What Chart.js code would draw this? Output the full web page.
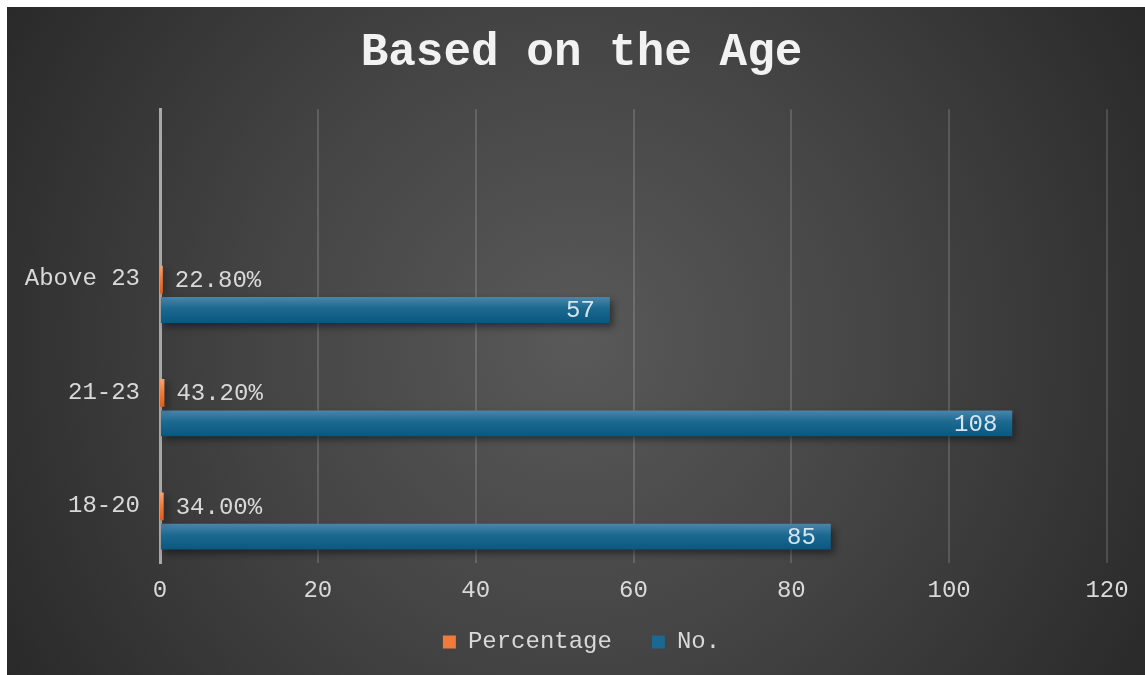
<!DOCTYPE html>
<html>
<head>
<meta charset="utf-8">
<script src="https://cdn.jsdelivr.net/npm/chart.js@4/dist/chart.umd.min.js"></script>
<style>
  html, body { margin: 0; padding: 0; background: #ffffff; }
  #panel {
    position: absolute; left: 7px; top: 7px; width: 1138px; height: 668px;
    background: radial-gradient(circle 680px at 50% 50%, #595959 0%, #454545 45%, #282828 100%);
  }
  #panel canvas { display: block; }
</style>
</head>
<body>
<div id="panel"><canvas id="c"></canvas></div>
<script>
// ---- data ----
const categories = ['18-20', '21-23', 'Above 23'];
const percentageValues = [0.34, 0.432, 0.228];
const countValues = [85, 108, 57];
const xTickValues = [0, 20, 40, 60, 80, 100, 120];
const seriesNames = ['Percentage', 'No.'];
const chartTitle = 'Based on the Age';

const FONT = '"Liberation Mono", "Courier New", monospace';

const toPoints = vals => vals.map((v, i) => ({ x: v, y: i }));

const gradientPlugin = {
  id: 'barStyle',
  beforeDatasetsDraw(chart) {
    const ctx = chart.ctx;
    chart.data.datasets.forEach((ds, di) => {
      const meta = chart.getDatasetMeta(di);
      meta.data.forEach(el => {
        const { y, height } = el.getProps(['y', 'height'], true);
        const g = ctx.createLinearGradient(0, y - height / 2, 0, y + height / 2);
        ds.gradientStops.forEach(([p, c]) => g.addColorStop(p, c));
        el.options = Object.assign({}, el.options, { backgroundColor: g });
      });
    });
    ctx.save();
    ctx.shadowColor = 'rgba(0,0,0,0.45)';
    ctx.shadowBlur = 7;
    ctx.shadowOffsetX = 3;
    ctx.shadowOffsetY = 4;
  },
  afterDatasetsDraw(chart) {
    chart.ctx.restore();
  }
};

const labelPlugin = {
  id: 'valueLabels',
  afterDatasetsDraw(chart) {
    const ctx = chart.ctx;
    ctx.save();
    ctx.font = '24px ' + FONT;
    ctx.textBaseline = 'middle';
    chart.data.datasets.forEach((ds, di) => {
      const meta = chart.getDatasetMeta(di);
      meta.data.forEach((el, i) => {
        const { x, y } = el.getProps(['x', 'y'], true);
        const v = ds.data[i].x;
        if (di === 0) {
          ctx.textAlign = 'left';
          ctx.fillStyle = '#d9d9d9';
          ctx.fillText((v * 100).toFixed(2) + '%', x + 13, y + 1);
        } else {
          ctx.textAlign = 'right';
          ctx.fillStyle = '#d6e4ee';
          ctx.fillText(String(v), x - 15, y + 1);
        }
      });
    });
    ctx.restore();
  }
};

new Chart(document.getElementById('c'), {
  type: 'bar',
  data: {
    datasets: [
      {
        label: seriesNames[0],
        data: toPoints(percentageValues),
        backgroundColor: '#ee7433',
        inflateAmount: 1,
        gradientStops: [[0, '#f6a070'], [0.5, '#ef7a3a'], [1, '#e2601c']]
      },
      {
        label: seriesNames[1],
        data: toPoints(countValues),
        backgroundColor: '#1a6690',
        gradientStops: [[0, '#4a86aa'], [0.45, '#1b6890'], [1, '#0a587f']]
      }
    ]
  },
  plugins: [gradientPlugin, labelPlugin],
  options: {
    indexAxis: 'y',
    responsive: true,
    maintainAspectRatio: false,
    animation: false,
    events: [],
    categoryPercentage: 0.536,
    barPercentage: 0.85,
    layout: { padding: { left: 11, right: 0, top: 0, bottom: 11 } },
    scales: {
      x: {
        type: 'linear',
        min: xTickValues[0],
        max: xTickValues[xTickValues.length - 1],
        afterBuildTicks: s => { s.ticks = xTickValues.map(v => ({ value: v })); },
        afterFit: s => { s.height = 56; },
        grid: { color: 'rgba(255,255,255,0.15)', lineWidth: 2, drawTicks: false },
        border: { display: false },
        ticks: { color: '#d9d9d9', padding: 13, font: { family: FONT, size: 24 } }
      },
      y: {
        type: 'linear',
        offset: false,
        min: -0.366,
        max: 3.637,
        afterBuildTicks: s => { s.ticks = categories.map((_, i) => ({ value: i })); },
        afterFit: s => { s.width = 142; },
        grid: { display: false, offset: false },
        border: { display: true, color: '#a8a8a8', width: 3, z: -1 },
        ticks: {
          color: '#d9d9d9', padding: 12, labelOffset: -16,
          font: { family: FONT, size: 24 },
          callback: v => categories[v]
        }
      },
      spacer: {
        type: 'linear',
        axis: 'y',
        position: 'right',
        afterFit: s => { s.width = 38; },
        grid: { display: false },
        border: { display: false },
        ticks: { display: false }
      }
    },
    plugins: {
      title: {
        display: true,
        text: chartTitle,
        color: '#f2f2f2',
        font: { family: FONT, size: 46, weight: 'bold' },
        padding: { top: 19, bottom: 28 }
      },
      legend: {
        position: 'bottom',
        title: { display: true, text: '', font: { size: 1 }, padding: { top: 0, bottom: -30.2 } },
        labels: {
          color: '#d9d9d9',
          font: { family: FONT, size: 24 },
          boxWidth: 13,
          boxHeight: 13,
          padding: 40,
          generateLabels: chart => chart.data.datasets.map((ds, i) => ({
            text: ds.label,
            fillStyle: ds.gradientStops[1][1],
            strokeStyle: 'transparent',
            lineWidth: 0,
            fontColor: '#d9d9d9',
            datasetIndex: i
          }))
        }
      },
      tooltip: { enabled: false }
    }
  }
});
</script>
</body>
</html>
